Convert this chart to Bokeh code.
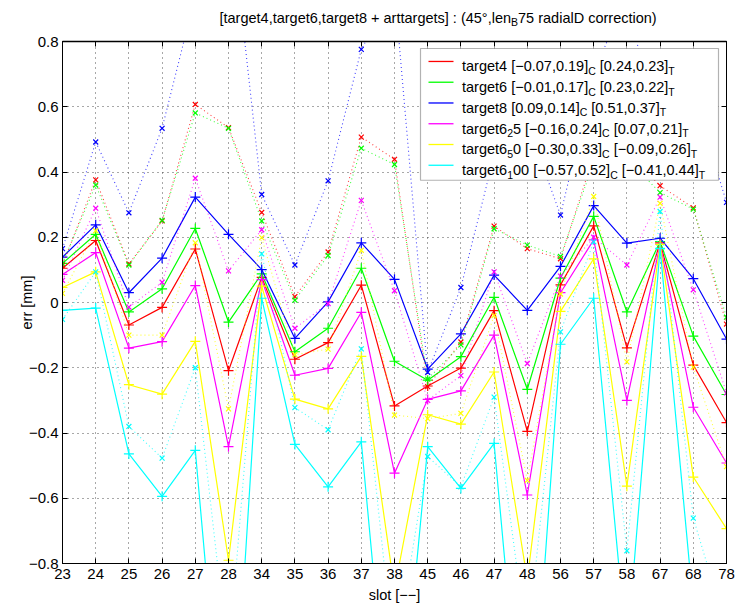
from bokeh.plotting import figure
from bokeh.layouts import column
from bokeh.models import (Range1d, FixedTicker, CustomJSTickFormatter, LinearAxis,
                          BoxAnnotation, Label)
from bokeh.embed import file_html
from bokeh.resources import INLINE

# ---------------- data ----------------
slots = ["23", "24", "25", "26", "27", "28", "34", "35", "36", "37", "38",
         "45", "46", "47", "48", "56", "57", "58", "67", "68", "78"]

# solid lines (+ markers): "C" values
target4_C = [0.105, 0.19, -0.069, -0.015, 0.164, -0.209, 0.077, -0.174, -0.123, 0.053, -0.317,
             -0.256, -0.201, -0.025, -0.395, 0.054, 0.235, -0.139, 0.183, -0.192, -0.368]
target6_C = [0.12, 0.209, -0.029, 0.042, 0.227, -0.06, 0.088, -0.151, -0.079, 0.105, -0.18,
             -0.238, -0.166, 0.016, -0.266, 0.075, 0.264, -0.029, 0.187, -0.103, -0.282]
target8_C = [0.139, 0.238, 0.03, 0.136, 0.323, 0.209, 0.101, -0.11, 0.002, 0.183, 0.071,
             -0.204, -0.096, 0.084, -0.024, 0.111, 0.297, 0.182, 0.197, 0.073, -0.112]
target6_25_C = [0.086, 0.153, -0.14, -0.12, 0.052, -0.442, 0.07, -0.223, -0.202, -0.03, -0.523,
                -0.297, -0.271, -0.1, -0.59, 0.03, 0.192, -0.3, 0.178, -0.321, -0.492]
target6_50_C = [0.046, 0.094, -0.252, -0.281, -0.119, -0.79, 0.05, -0.296, -0.326, -0.165, -0.88,
                -0.344, -0.373, -0.213, -0.85, -0.027, 0.134, -0.563, 0.178, -0.535, -0.693]
target6_100_C = [-0.024, -0.017, -0.464, -0.594, -0.453, -1.6, 0.013, -0.435, -0.565, -0.427, -1.52,
                 -0.442, -0.57, -0.432, -1.55, -0.128, 0.013, -1.07, 0.166, -0.93, -1.0]

# dotted lines (x markers): "T" values
target4_T = [0.115, 0.376, 0.118, 0.25, 0.607, 0.536, 0.276, 0.018, 0.155, 0.507, 0.439,
             -0.258, -0.121, 0.234, 0.165, 0.134, 0.45, 0.46, 0.358, 0.29, -0.066]
target6_T = [0.12, 0.36, 0.115, 0.252, 0.581, 0.534, 0.25, 0.007, 0.144, 0.473, 0.423,
             -0.235, -0.13, 0.226, 0.176, 0.141, 0.43, 0.44, 0.337, 0.286, -0.045]
target8_T = [0.165, 0.492, 0.275, 0.534, 0.94, 1.25, 0.331, 0.115, 0.373, 0.776, 0.96,
             -0.214, 0.046, 0.45, 0.55, 0.268, 0.7, 0.95, 0.45, 0.64, 0.307]
target6_25_T = [0.068, 0.289, -0.014, 0.062, 0.381, 0.097, 0.223, -0.079, -0.003, 0.313, 0.036,
                -0.3, -0.224, 0.094, -0.187, 0.081, 0.2, 0.115, 0.323, 0.039, -0.277]
target6_50_T = [0.028, 0.22, -0.1, -0.1, 0.183, -0.326, 0.199, -0.16, -0.143, 0.16, -0.345,
                -0.356, -0.34, -0.04, -0.545, 0.026, 0.325, -0.182, 0.304, -0.198, -0.503]
target6_100_T = [-0.052, 0.094, -0.38, -0.477, -0.2, -1.1, 0.149, -0.322, -0.39, -0.142, -1.1,
                 -0.472, -0.565, -0.29, -1.05, -0.09, 0.186, -0.761, 0.279, -0.661, -1.0]

colors = ["#ff0000", "#00ff00", "#0000ff", "#ff00ff", "#ffff00", "#00ffff"]
C_series = [target4_C, target6_C, target8_C, target6_25_C, target6_50_C, target6_100_C]
T_series = [target4_T, target6_T, target8_T, target6_25_T, target6_50_T, target6_100_T]

legend_parts = [
    [("target4 [\u22120.07,0.19]", 0), ("C", 1), (" [0.24,0.23]", 0), ("T", 1)],
    [("target6 [\u22120.01,0.17]", 0), ("C", 1), (" [0.23,0.22]", 0), ("T", 1)],
    [("target8 [0.09,0.14]", 0), ("C", 1), (" [0.51,0.37]", 0), ("T", 1)],
    [("target6", 0), ("2", 1), ("5 [\u22120.16,0.24]", 0), ("C", 1), (" [0.07,0.21]", 0), ("T", 1)],
    [("target6", 0), ("5", 1), ("0 [\u22120.30,0.33]", 0), ("C", 1), (" [\u22120.09,0.26]", 0), ("T", 1)],
    [("target6", 0), ("1", 1), ("00 [\u22120.57,0.52]", 0), ("C", 1), (" [\u22120.41,0.44]", 0), ("T", 1)],
]
title_parts = [("[target4,target6,target8 + arttargets] : (45\u00b0,len", 0), ("B", 1),
               ("75 radialD correction)", 0)]

# ---------------- layout ----------------
W, H = 736, 605
TH = 30                      # height of the title strip
FL, FR, FT, FB = 62, 726, 41, 564   # frame box in page pixels
FONT = "Liberation Sans"
n = len(slots)
xs = list(range(n))

AW = {' ': 278, '[': 278, ']': 278, '(': 333, ')': 333, ',': 278, '.': 278, ':': 278,
      '+': 584, '\u2212': 584, '\u00b0': 400, 'a': 556, 'b': 556, 'c': 500, 'd': 556,
      'e': 556, 'g': 556, 'i': 222, 'l': 222, 'n': 556, 'o': 556, 'r': 333, 's': 500,
      't': 278, 'B': 667, 'C': 722, 'D': 722, 'T': 611}

def tw(s, size):
    return sum(AW.get(ch, 556) for ch in s) / 1000.0 * size

def rich(fig, parts, x0, base, fx, fy, size=14.5, sub=10.5, drop=4.5):
    x = x0
    for txt, is_sub in parts:
        fs = sub if is_sub else size
        by = base + drop if is_sub else base
        lead = len(txt) - len(txt.lstrip(" "))
        x += tw(" " * lead, fs)
        t = txt.lstrip(" ")
        lab = Label(x=fx(x), y=fy(by), text=t, text_font=FONT, text_font_size=f"{fs}px",
                    text_color="black", text_align="left", text_baseline="alphabetic")
        fig.add_layout(lab)
        x += tw(t, fs)

# ---- title strip (its own small figure; its frame lines up with the main frame,
#      so its x data units are page pixels between FL and FR) ----
tfig = figure(width=W, height=TH, output_backend="svg", toolbar_location=None,
              x_range=Range1d(FL, FR), y_range=Range1d(TH, 0),
              x_axis_location=None, y_axis_location=None, min_border=0)
tfig.title.visible = False
tfig.outline_line_color = None
tfig.grid.visible = False
tfig.background_fill_color = "white"
tfig.border_fill_color = "white"
rich(tfig, title_parts, 219, 17, lambda v: v, lambda v: v)

# ---- main plot ----
p = figure(width=W, height=H - TH, output_backend="svg", toolbar_location=None,
           x_range=Range1d(0, n - 1), y_range=Range1d(-0.8, 0.8),
           min_border_left=FL, min_border_right=W - FR,
           min_border_top=FT - TH, min_border_bottom=H - FB,
           x_axis_label="slot [\u2212\u2212]", y_axis_label="err [mm]")
p.title.visible = False
p.background_fill_color = "white"
p.border_fill_color = "white"
p.outline_line_color = "black"

xt = FixedTicker(ticks=xs)
yt = FixedTicker(ticks=[-0.8, -0.6, -0.4, -0.2, 0, 0.2, 0.4, 0.6, 0.8])
xfmt = CustomJSTickFormatter(args=dict(labels=slots), code="return labels[Math.round(tick)] || '';")
yfmt = CustomJSTickFormatter(code="""
if (Math.abs(tick) < 1e-9) return '0';
var s = Math.abs(tick).toFixed(1);
return tick < 0 ? '\\u2212' + s : s;""")
blank = CustomJSTickFormatter(code="return '';")

def style_axis(ax, show_labels):
    ax.axis_line_color = "black"
    ax.major_tick_line_color = "black"
    ax.major_tick_in = 5
    ax.major_tick_out = 0
    ax.minor_tick_line_color = None
    ax.major_label_text_font = FONT
    ax.major_label_text_font_size = "15px" if show_labels else "0px"
    ax.major_label_text_color = "black"
    ax.axis_label_text_font = FONT
    ax.axis_label_text_font_size = "14.5px"
    ax.axis_label_text_font_style = "normal"
    ax.axis_label_text_color = "black"
    if not show_labels:
        ax.major_label_standoff = 0

p.xaxis.ticker = xt
p.xaxis.formatter = xfmt
p.yaxis.ticker = yt
p.yaxis.formatter = yfmt
style_axis(p.xaxis[0], True)
style_axis(p.yaxis[0], True)
p.xaxis.major_label_standoff = 5
p.xaxis.axis_label_standoff = 5
p.yaxis.major_label_standoff = 4
p.yaxis.axis_label_standoff = -9

top_ax = LinearAxis(ticker=xt, formatter=blank)
right_ax = LinearAxis(ticker=yt, formatter=blank)
style_axis(top_ax, False)
style_axis(right_ax, False)
top_ax.axis_line_width = 1.5
p.add_layout(top_ax, "above")
p.add_layout(right_ax, "right")

for g in (p.xgrid[0], p.ygrid[0]):
    g.grid_line_color = "#333333"
    g.grid_line_alpha = 0.85
    g.grid_line_dash = "1 4"
    g.grid_line_width = 1
p.xgrid.ticker = xt
p.ygrid.ticker = yt

# solid series first (these are the legend entries), then dotted
for c, ys in zip(colors, C_series):
    p.line(xs, ys, line_color=c, line_width=1.2)
    p.scatter(xs, ys, marker="cross", size=10, line_color=c, line_width=1.2)
for c, ys in zip(colors, T_series):
    p.line(xs, ys, line_color=c, line_width=1.1, line_dash="1 3", line_alpha=0.75)
    p.scatter(xs, ys, marker="x", size=7, line_color=c, line_width=1.2)

# pixel (page) -> data helpers for the in-frame legend
def X(px):
    return (px - FL) / (FR - FL) * (n - 1)

def Y(py):
    return 0.8 - (py - FT) / (FB - FT) * 1.6

LB_L, LB_R, LB_T, LB_B = 420, 718, 48, 180
p.add_layout(BoxAnnotation(left=X(LB_L), right=X(LB_R), top=Y(LB_T), bottom=Y(LB_B),
                           fill_color="white", fill_alpha=1.0, line_color="black",
                           line_width=1.2))
row0, dy = 61, 20.8
seg = p.segment(x0=[X(428)] * 6, x1=[X(453)] * 6,
                y0=[Y(row0 + i * dy) for i in range(6)], y1=[Y(row0 + i * dy) for i in range(6)],
                line_color=colors, line_width=1.3)
seg.level = "overlay"
for i, parts in enumerate(legend_parts):
    rich(p, parts, 461.5, row0 + i * dy + 5, X, Y)

layout = column(tfig, p, spacing=0)
open("out.html", "w").write(file_html(layout, INLINE))
